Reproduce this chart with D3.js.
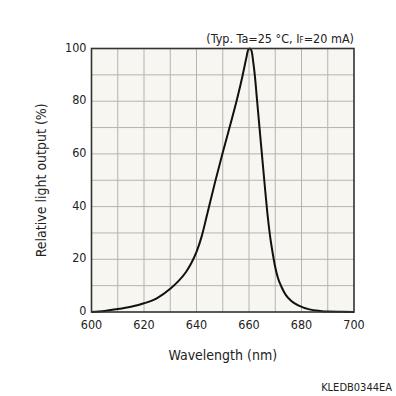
<!DOCTYPE html>
<html>
<head>
<meta charset="utf-8">
<script src="https://cdn.jsdelivr.net/npm/d3@7"></script>
<style>
  body { margin: 0; background: #fff; }
  text { font-family: "DejaVu Sans Condensed", "DejaVu Sans", sans-serif; fill: #222; }
</style>
</head>
<body>
<div id="chart"></div>
<script>
// wavelength (nm) and relative output (%)
const wavelength = [600, 605, 610, 615, 620, 625, 630, 633, 636, 638, 640, 642, 644, 647, 650, 653, 655.5, 657.5, 659, 659.7, 660.3, 661, 661.6, 662.2, 663.1, 664, 665, 666, 667, 668, 669, 670, 671, 672.4, 674, 676, 679, 683, 687, 690, 695, 700];
const output = [0, 0.4, 1.1, 2.0, 3.3, 5.3, 8.8, 11.6, 15.2, 18.5, 22.8, 28.8, 36.8, 49, 60.5, 71.5, 81, 89.5, 96.5, 99.5, 100, 99, 95, 90, 80, 70, 59, 48, 37.5, 29, 22.5, 17, 13, 9.5, 6.5, 4.3, 2.4, 1, 0.4, 0.15, 0.05, 0];
const xTicks = [600, 620, 640, 660, 680, 700];
const yTicks = [0, 20, 40, 60, 80, 100];

const render = () => {
    const width = 396, height = 396;
    const m = {left: 91.5, right: 42, top: 48.5, bottom: 84};

    const svg = d3.select("#chart").append("svg")
        .attr("width", width)
        .attr("height", height);

    const x = d3.scaleLinear().domain([600, 700]).range([m.left, width - m.right]);
    const y = d3.scaleLinear().domain([0, 100]).range([height - m.bottom, m.top]);

    svg.append("rect")
        .attr("x", x(600)).attr("y", y(100))
        .attr("width", x(700) - x(600)).attr("height", y(0) - y(100))
        .attr("fill", "#f8f6f0");

    // grid every 10 units
    const g = svg.append("g").attr("stroke", "#b4b4b0").attr("stroke-width", 1);
    g.selectAll(".gx").data(d3.range(610, 700, 10)).join("line")
        .attr("x1", d => x(d)).attr("x2", d => x(d))
        .attr("y1", y(0)).attr("y2", y(100));
    g.selectAll(".gy").data(d3.range(10, 100, 10)).join("line")
        .attr("y1", d => y(d)).attr("y2", d => y(d))
        .attr("x1", x(600)).attr("x2", x(700));

    const pts = wavelength.map((w, i) => [w, output[i]]);
    svg.append("path")
        .datum(pts)
        .attr("fill", "none")
        .attr("stroke", "#111")
        .attr("stroke-width", 2)
        .attr("d", d3.line().x(d => x(d[0])).y(d => y(d[1])).curve(d3.curveMonotoneX));

    svg.append("rect")
        .attr("x", x(600)).attr("y", y(100))
        .attr("width", x(700) - x(600)).attr("height", y(0) - y(100))
        .attr("fill", "none").attr("stroke", "#333").attr("stroke-width", 1.6);

    svg.append("g").selectAll("text").data(xTicks).join("text")
        .attr("x", d => x(d)).attr("y", y(0) + 17)
        .attr("text-anchor", "middle").attr("font-size", 12.5)
        .text(d => d);

    svg.append("g").selectAll("text").data(yTicks).join("text")
        .attr("x", x(600) - 5).attr("y", d => y(d) + 3)
        .attr("text-anchor", "end").attr("font-size", 12.5)
        .text(d => d);

    svg.append("text")
        .attr("x", (x(600) + x(700)) / 2).attr("y", 360)
        .attr("text-anchor", "middle").attr("font-size", 14)
        .text("Wavelength (nm)");

    svg.append("text")
        .attr("transform", `translate(46,${(y(0) + y(100)) / 2}) rotate(-90)`)
        .attr("text-anchor", "middle").attr("font-size", 14)
        .text("Relative light output (%)");

    const t = svg.append("text")
        .attr("x", x(700)).attr("y", 43)
        .attr("text-anchor", "end").attr("font-size", 12.5);
    t.append("tspan").text("(Typ. Ta=25 °C, I");
    t.append("tspan").attr("font-size", 8).text("F");
    t.append("tspan").text("=20 mA)");

    svg.append("text")
        .attr("x", 392).attr("y", 391)
        .attr("text-anchor", "end").attr("font-size", 11)
        .text("KLEDB0344EA");
}

render();
</script>
</body>
</html>
